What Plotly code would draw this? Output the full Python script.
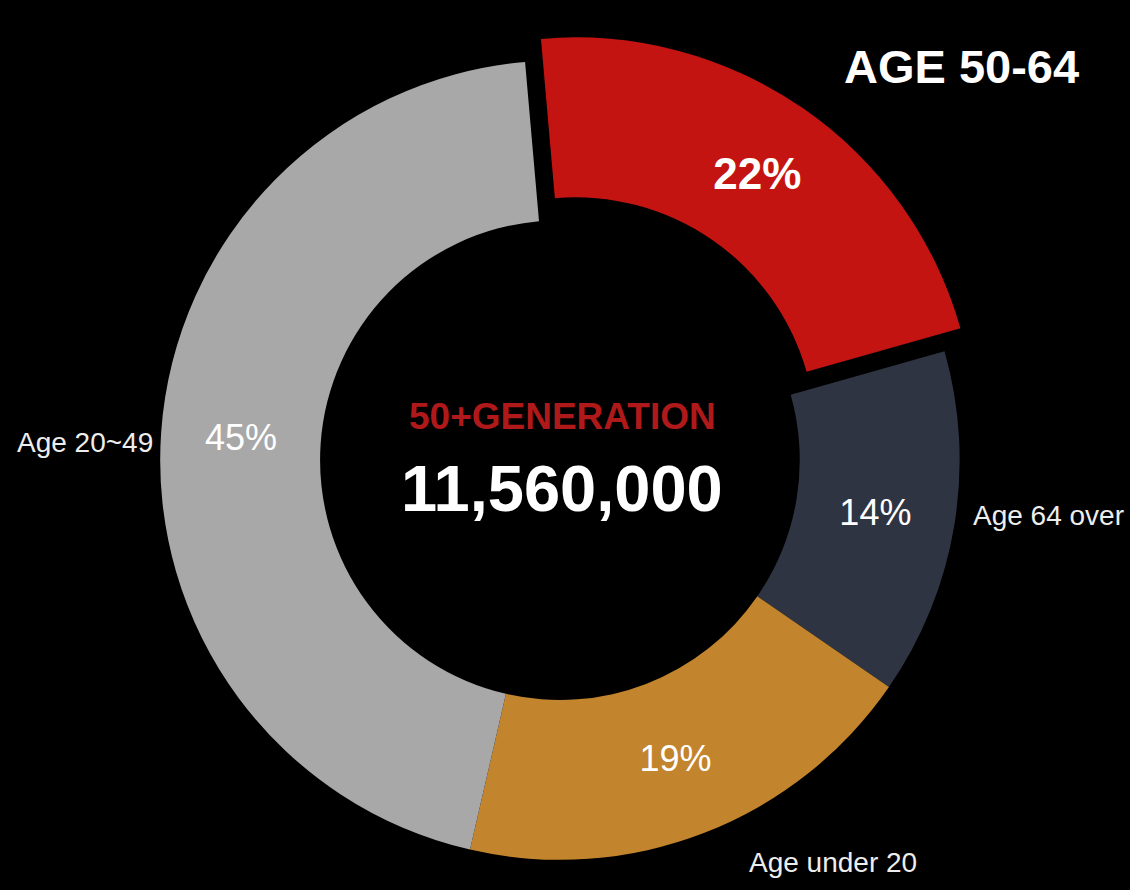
import plotly.graph_objects as go

labels = ["Age 50-64", "Age 64 over", "Age under 20", "Age 20~49"]
values = [22, 14, 19, 45]
colors = ["#C41411", "#2F3442", "#C2842C", "#A8A8A8"]
center_title = "50+GENERATION"
center_value = "11,560,000"
highlight_title = "AGE 50-64"

FONT = "Liberation Sans, Arial, Helvetica, sans-serif"

fig = go.Figure(go.Pie(
    labels=labels,
    values=values,
    sort=False,
    direction="clockwise",
    rotation=-5,
    hole=0.6,
    pull=[0.07, 0, 0, 0],
    marker=dict(colors=colors, line=dict(width=0)),
    texttemplate="%{percent:.0%}",
    textposition="inside",
    insidetextorientation="horizontal",
    insidetextfont=dict(
        family=FONT,
        color="white",
        size=[44, 36, 36, 36],
        weight=["bold", "normal", "normal", "normal"],
    ),
    showlegend=False,
    hoverinfo="label+percent",
    domain=dict(x=[0.117, 0.874], y=[0.002, 0.964]),
))

ann = [
    dict(x=562/1130, y=1-416/890, text=center_title,
         font=dict(family=FONT, size=37, color="#B0191A", weight="bold")),
    dict(x=562/1130, y=1-488/890, text=center_value,
         font=dict(family=FONT, size=65, color="white", weight="bold")),
    dict(x=961/1130, y=1-66/890, text=highlight_title,
         font=dict(family=FONT, size=47, color="white", weight="bold")),
    dict(x=85/1130, y=1-442/890, text=labels[3],
         font=dict(family=FONT, size=28, color="#EDEDED")),
    dict(x=1048/1130, y=1-515/890, text=labels[1],
         font=dict(family=FONT, size=28, color="#EDEDED")),
    dict(x=833/1130, y=1-862/890, text=labels[2],
         font=dict(family=FONT, size=28, color="#EDEDED")),
]
for a in ann:
    a.update(xref="paper", yref="paper", showarrow=False,
             xanchor="center", yanchor="middle")

fig.update_layout(
    width=1130, height=890,
    margin=dict(l=0, r=0, t=0, b=0),
    paper_bgcolor="black",
    plot_bgcolor="black",
    annotations=ann,
)

fig.write_html("out.html")
